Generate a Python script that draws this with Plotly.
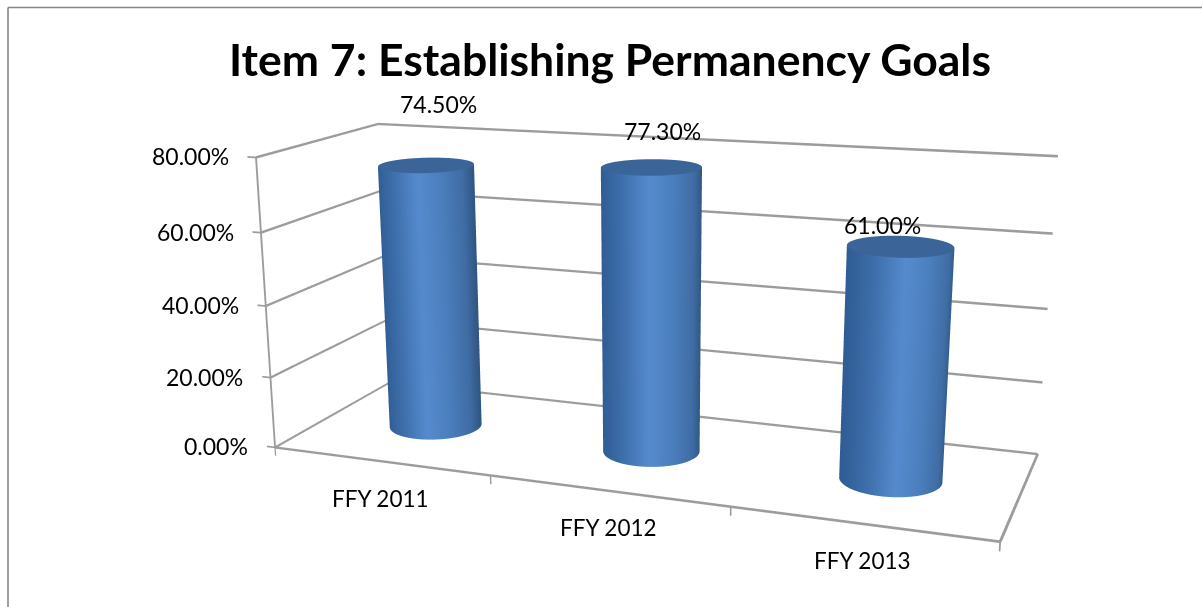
import numpy as np
import plotly.graph_objects as go

categories = ["FFY 2011", "FFY 2012", "FFY 2013"]
values = [74.5, 77.3, 61.0]
tick_values = [0, 20, 40, 60, 80]
tick_labels = ["0.00%", "20.00%", "40.00%", "60.00%", "80.00%"]
title_text = "Item 7: Establishing Permanency Goals"

# Camera recovered from the reference's vanishing points (focal length 1669 px,
# principal point at 586,363). Plotly's field of view is fixed at 45 degrees of the
# figure height, so the figure is made tall enough to give that focal length.
FIG_W, FIG_H = 1232, 1383
SHIFT_X, SHIFT_Y = 30, 328
ex = np.array([0.9277, 0.0937, -0.3613])
ey = np.array([0.3730, -0.2604, 0.8906])
ez = np.array([-0.0107, -0.9610, -0.2766])
ORIGIN = np.array([-0.1863, 0.0503, 1.0])
BOX_W, BOX_D, BOX_H, K = 0.4270, 0.1438, 0.1746, 4.0

n = len(categories)
top = tick_values[-1]
rx, ry, rz = [-0.06, n + 0.02], [-0.02, 1.02], [-3, top + 1]
def world(x, y, z):
    return K * np.array([x / n * BOX_W, y * BOX_D, z / top * BOX_H])
aspect = world(rx[1] - rx[0], ry[1] - ry[0], rz[1] - rz[0])
mid = world(sum(rx) / 2, sum(ry) / 2, sum(rz) / 2)
to_world = np.array([ex, ey, ez])
eye = to_world @ (-K * ORIGIN) - mid
forward = to_world @ np.array([0, 0, 1.0])
look = eye + 0.96 * K * forward
up = to_world @ np.array([0, -1.0, 0])

def px_x(x):
    return (x + SHIFT_X) / FIG_W
def px_y(y):
    return 1 - (y + SHIFT_Y) / FIG_H

fig = go.Figure()
flat = dict(ambient=1, diffuse=0, specular=0, roughness=1, fresnel=0)
colorscale = [[0.0, "#305d95"], [0.2, "#3f70ad"], [0.45, "#558bce"], [0.7, "#4a7dbb"], [0.9, "#3f6ca3"], [1.0, "#305682"]]
R_CAT = 0.2
r_depth = R_CAT * (BOX_W / n) / BOX_D
th = np.linspace(0, 2 * np.pi, 145)
for i, v in enumerate(values):
    cx = i + 0.5
    X = np.outer(cx + R_CAT * np.cos(th), [1, 1])
    Y = np.outer(0.5 + r_depth * np.sin(th), [1, 1])
    Z = np.outer(np.ones_like(th), [0, v])
    shade = np.outer((1 + np.cos(th - 0.4)) / 2, [1, 1])
    fig.add_trace(go.Surface(x=X, y=Y, z=Z, surfacecolor=shade, colorscale=colorscale, cmin=0, cmax=1,
                             showscale=False, hoverinfo="skip", name=categories[i], lighting=flat))
    rad = np.array([0, 1])
    XC = cx + R_CAT * np.outer(np.cos(th), rad)
    YC = 0.5 + r_depth * np.outer(np.sin(th), rad)
    ZC = np.full_like(XC, v)
    fig.add_trace(go.Surface(x=XC, y=YC, z=ZC, surfacecolor=np.zeros_like(XC),
                             colorscale=[[0, "#3b6598"], [1, "#3b6598"]],
                             showscale=False, hoverinfo="skip", lighting=flat))

LINE = "#9c9c9c"
def ribbon(p0, p1, off):
    p0, p1, off = map(np.array, (p0, p1, off))
    pts = np.array([[p0 - off, p0 + off], [p1 - off, p1 + off]], dtype=float)
    fig.add_trace(go.Surface(x=pts[:, :, 0], y=pts[:, :, 1], z=pts[:, :, 2],
                             surfacecolor=np.zeros((2, 2)), colorscale=[[0, LINE], [1, LINE]],
                             showscale=False, hoverinfo="skip", lighting=flat))

DZ, DX = 0.34, 0.0045
for t in tick_values:
    ribbon((0, 0, t), (0, 1, t), (0, 0, DZ))        # left wall
    ribbon((0, 1, t), (n, 1, t), (0, 0, DZ))        # back wall
    ribbon((-0.04, 0, t), (0, 0, t), (0, 0, DZ * 0.7))  # value tick
ribbon((0, 0, 0), (n, 0, 0), (0, 0, DZ))            # front floor edge
ribbon((n, 0, 0), (n, 1, 0), (DX * 1.2, 0, 0))      # right floor edge
ribbon((0, 0, 0), (0, 0, top), (DX, 0, 0))          # value axis
for k in range(n + 1):
    ribbon((k, 0, 0), (k, 0, -2.4), (DX * 0.7, 0, 0))  # category tick

FONT = "Lato"
ann = []
for t, lab in zip(tick_values, tick_labels):
    ann.append(dict(x=0, y=0, z=t, text=lab, showarrow=False, xanchor="right", xshift=-25, yshift=1,
                    font=dict(family=FONT, size=23, color="#000")))
for i, c in enumerate(categories):
    ann.append(dict(x=i + 0.5, y=0, z=0, text=c, showarrow=False, yshift=-37, xshift=1,
                    font=dict(family=FONT, size=22.5, color="#000")))
label_shift = [(12, 61), (11, 36), (-18, 21)]
for i, v in enumerate(values):
    ann.append(dict(x=i + 0.5, y=0.5, z=v, text=f"{v:.2f}%", showarrow=False,
                    xshift=label_shift[i][0], yshift=label_shift[i][1],
                    font=dict(family=FONT, size=23, color="#000")))

axis_off = dict(showgrid=False, showline=False, zeroline=False, showticklabels=False, ticks="",
                showbackground=False, title="", showspikes=False)
border = dict(color="#868686", width=1.6)
fig.update_layout(
    width=FIG_W, height=FIG_H, margin=dict(l=0, r=0, t=0, b=0), paper_bgcolor="#fff", showlegend=False,
    title=dict(text=f"<b>{title_text}</b>", x=px_x(610), xanchor="center", y=px_y(60), yanchor="middle",
               font=dict(family=FONT, size=44.5, color="#000")),
    shapes=[
        dict(type="line", xref="paper", yref="paper", x0=px_x(8), x1=1, y0=px_y(7.5), y1=px_y(7.5), line=border),
        dict(type="line", xref="paper", yref="paper", x0=px_x(8), x1=px_x(8), y0=px_y(7.5), y1=0, line=border),
    ],
    scene=dict(
        domain=dict(x=[0, 1], y=[0, 1]),
        aspectmode="manual",
        aspectratio=dict(x=aspect[0], y=aspect[1], z=aspect[2]),
        xaxis=dict(axis_off, range=rx),
        yaxis=dict(axis_off, range=ry),
        zaxis=dict(axis_off, range=rz, tickvals=tick_values),
        camera=dict(eye=dict(x=eye[0], y=eye[1], z=eye[2]),
                    center=dict(x=look[0], y=look[1], z=look[2]),
                    up=dict(x=up[0], y=up[1], z=up[2]),
                    projection=dict(type="perspective")),
        annotations=ann,
    ),
)
fig.write_html("out.html", post_script=(
    "document.documentElement.style.overflow='hidden';document.body.style.margin='0';"
    "document.body.style.overflow='hidden';var g=document.getElementById('{plot_id}');"
    f"g.style.marginLeft='-{SHIFT_X}px';g.style.marginTop='-{SHIFT_Y}px';"))
